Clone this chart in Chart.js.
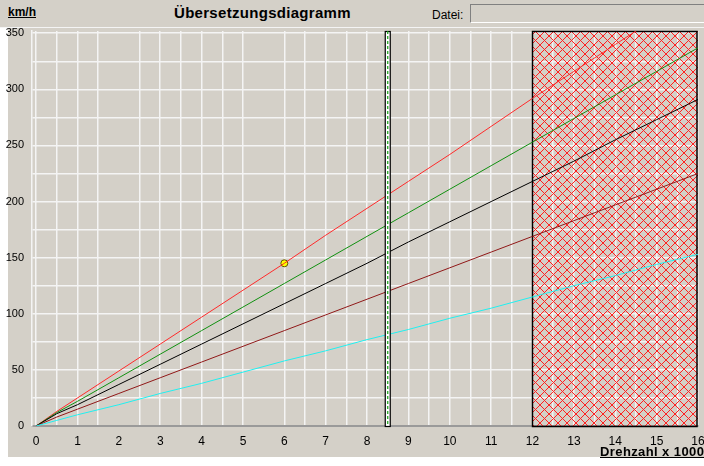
<!DOCTYPE html>
<html>
<head>
<meta charset="utf-8">
<script src="https://cdn.jsdelivr.net/npm/chart.js@4/dist/chart.umd.min.js"></script>
<style>
  body { margin: 0; background: #fff; width: 704px; height: 466px; overflow: hidden; position: relative; font-family: "Liberation Sans", Arial, sans-serif; }
  #panel { position: absolute; left: 8px; top: 0; width: 696px; height: 457px; background: #d4d0c8; }
  #head { position: absolute; left: 0; top: 0; width: 704px; height: 27px; background: #d4d0c8; border-bottom: 1px solid #f4f4f4; }
  #unit { position: absolute; left: 8px; top: 5px; font-weight: bold; font-size: 12px; text-decoration: underline; color: #000; }
  #title { position: absolute; left: 174px; top: 4px; font-weight: bold; font-size: 15px; letter-spacing: 0.3px; color: #000; }
  #datei { position: absolute; left: 432px; top: 8px; font-size: 12px; color: #000; }
  #file { position: absolute; left: 470px; top: 4px; width: 240px; height: 17px; border-top: 1px solid #808080; border-left: 1px solid #808080; border-bottom: 1px solid #fff; background: #d4d0c8; }
  #xlab { position: absolute; left: 600px; top: 444px; font-weight: bold; font-size: 13px; letter-spacing: 0.4px; text-decoration: underline; white-space: nowrap; color: #000; }
  #wrap { position: absolute; left: 0; top: 0; width: 704px; height: 466px; }
</style>
</head>
<body>
<div id="panel"></div>
<div id="head"></div>
<div id="unit">km/h</div>
<div id="title">Übersetzungsdiagramm</div>
<div id="datei">Datei:</div>
<div id="file"></div>
<div id="wrap"><canvas id="chart"></canvas></div>
<div id="xlab">Drehzahl x 1000</div>
<script>
// Drehzahl (x 1000) und Geschwindigkeit je Gang in km/h
var rpm = [0, 0.5, 1, 2, 3, 4, 5, 6, 7, 8, 9, 10, 11, 12, 13, 14, 15, 16];
var gang1 = [0, 5, 10, 19, 29, 38, 48, 58, 67, 77, 86, 96, 105, 115, 125, 134, 144, 153];
var gang2 = [0, 8, 15, 29, 43, 57, 71, 85, 99, 113, 127, 141, 155, 169, 183, 197, 211, 225];
var gang3 = [0, 11, 19, 37, 55, 73, 91, 109, 127, 145, 164, 182, 200, 218, 236, 255, 273, 291];
var gang4 = [0, 12, 22, 43, 64, 85, 106, 127, 148, 169, 190, 211, 232, 253, 274, 295, 316, 337];
var gang5 = [0, 13, 25, 49, 73, 97, 121, 145, 170, 194, 218, 242, 267, 292, 316, 340, 364, 388];
var marker = [{ x: 6, y: 145 }];
var limitRpm = 8.5;
var redZone = [12, 16];
var xTicks = [0, 0.5, 1, 1.5, 2, 2.5, 3, 3.5, 4, 4.5, 5, 5.5, 6, 6.5, 7, 7.5, 8, 8.5, 9, 9.5, 10, 10.5, 11, 11.5, 12, 12.5, 13, 13.5, 14, 14.5, 15, 15.5, 16];
var yTicks = [0, 25, 50, 75, 100, 125, 150, 175, 200, 225, 250, 275, 300, 325, 350];

function pts(ys) {
    return rpm.map((r, i) => ({ x: r, y: ys[i] }));
}

// Schraffur fuer den roten Bereich
var pat = document.createElement('canvas');
pat.width = 9; pat.height = 9;
var pc = pat.getContext('2d');
pc.strokeStyle = '#ff2020';
pc.lineWidth = 1;
pc.beginPath();
pc.moveTo(0, 0); pc.lineTo(9, 9);
pc.moveTo(9, 0); pc.lineTo(0, 9);
pc.stroke();

var zonesPlugin = {
    id: 'zones',
    beforeDatasetsDraw(chart) {
        var c = chart.ctx, a = chart.chartArea, xs = chart.scales.x;
        var x1 = xs.getPixelForValue(redZone[0]), x2 = xs.getPixelForValue(redZone[1]);
        c.save();
        c.fillStyle = c.createPattern(pat, 'repeat');
        c.fillRect(x1, a.top, x2 - x1, a.bottom - a.top);
        c.strokeStyle = '#000';
        c.lineWidth = 1.5;
        c.strokeRect(x1, a.top + 0.5, x2 - x1 - 1, a.bottom - a.top);
        c.restore();
    },
    afterDatasetsDraw(chart) {
        var c = chart.ctx, a = chart.chartArea, xs = chart.scales.x;
        var xm = xs.getPixelForValue(limitRpm);
        c.save();
        c.fillStyle = '#fff';
        c.fillRect(xm - 2.5, a.top, 5, a.bottom - a.top);
        c.strokeStyle = '#000';
        c.lineWidth = 1.2;
        c.strokeRect(xm - 2.5, a.top + 0.5, 5, a.bottom - a.top);
        c.strokeStyle = '#10a010';
        c.setLineDash([3, 2]);
        c.beginPath();
        c.moveTo(xm, a.top);
        c.lineTo(xm, a.bottom);
        c.stroke();
        c.restore();
    }
};

function line(data, color) {
    return { data: pts(data), borderColor: color, borderWidth: 1, pointRadius: 0, fill: false, tension: 0 };
}

new Chart(document.getElementById('chart'), {
    type: 'line',
    data: {
        datasets: [
            line(gang1, '#20f0f0'),
            line(gang2, '#901818'),
            line(gang3, '#000000'),
            line(gang4, '#109010'),
            line(gang5, '#ff2a2a'),
            { data: marker, showLine: false, pointRadius: 3.5, pointBackgroundColor: '#ffff00', pointBorderColor: '#605000', pointBorderWidth: 1 }
        ]
    },
    options: {
        responsive: true,
        maintainAspectRatio: false,
        animation: false,
        layout: { padding: { left: 0, top: 31, right: 6, bottom: 0 } },
        plugins: { legend: { display: false }, tooltip: { enabled: false } },
        scales: {
            x: {
                type: 'linear',
                min: -0.1,
                max: 16,
                afterBuildTicks: s => { s.ticks = xTicks.map(v => ({ value: v })); },
                afterFit: s => { s.height = 40; s.paddingLeft = 0; s.paddingRight = 0; },
                grid: {
                    drawTicks: false,
                    color: ctx => (ctx.tick && (ctx.tick.value === 2 || ctx.tick.value === 5.5)) ? 'rgba(0,0,0,0)' : '#f4f4f4',
                    lineWidth: 1.5
                },
                border: { color: '#9a9a9a', width: 2 },
                ticks: {
                    autoSkip: false,
                    maxRotation: 0,
                    padding: 8,
                    color: '#000',
                    font: { family: 'Liberation Sans', size: 12 },
                    callback: v => Number.isInteger(v) ? String(v) : ''
                }
            },
            y: {
                min: 0,
                max: 352,
                afterBuildTicks: s => { s.ticks = yTicks.map(v => ({ value: v })); },
                afterFit: s => { s.width = 32; s.paddingTop = 0; s.paddingBottom = 0; },
                grid: { drawTicks: false, color: '#f4f4f4', lineWidth: 1.5 },
                border: { color: '#f4f4f4', width: 1.5 },
                ticks: {
                    autoSkip: false,
                    padding: 8,
                    color: '#000',
                    font: { family: 'Liberation Sans', size: 11 },
                    callback: v => v % 50 === 0 ? String(v) : ''
                }
            }
        }
    },
    plugins: [zonesPlugin]
});
</script>
</body>
</html>
